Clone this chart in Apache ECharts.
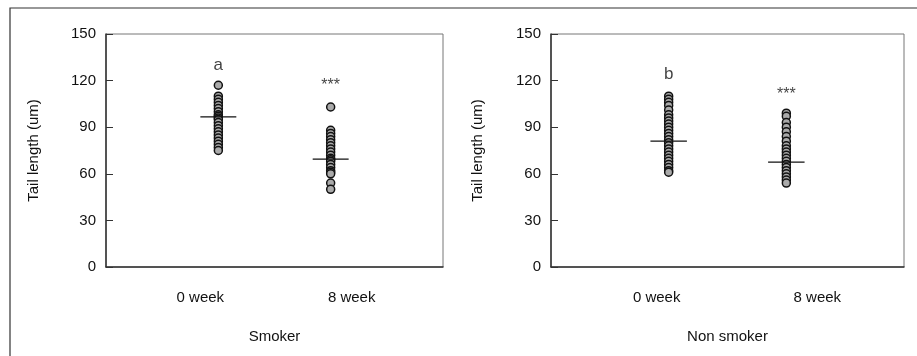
<!DOCTYPE html>
<html><head><meta charset="utf-8">
<script src="https://cdn.jsdelivr.net/npm/echarts@6/dist/echarts.min.js"></script>
<style>html,body{margin:0;padding:0;background:#fff}#c{width:917px;height:356px}</style>
</head><body><div id="c"></div>
<script>
const categories = ['0 week', '8 week'];
const groups = ['Smoker', 'Non smoker'];
const yTicks = [0, 30, 60, 90, 120, 150];
const smoker0 = [117, 110, 108, 106, 104, 102, 100, 98, 97, 96, 95, 93, 91, 89, 87, 85, 83, 81, 79, 77, 75];
const smoker8 = [103, 88, 86, 84, 82, 80, 78, 76, 74, 72, 70, 69, 68, 66, 64, 62, 61, 60, 54, 50];
const nonsmoker0 = [110, 108, 106, 104, 101, 98, 96, 94, 92, 90, 88, 86, 84, 82, 80, 78, 76, 74, 72, 70, 68, 66, 64, 62, 61];
const nonsmoker8 = [99, 97, 93, 90, 87, 84, 81, 78, 76, 74, 72, 70, 68, 66, 64, 62, 60, 58, 56, 54];
const means = [[96.6, 69.5], [81, 67.5]];
const annotations = [[{ text: 'a', y: 130 }, { text: '***', y: 117 }], [{ text: 'b', y: 124 }, { text: '***', y: 111 }]];

const font = 'Liberation Sans';
const txt = '#111';
const panels = [[smoker0, smoker8], [nonsmoker0, nonsmoker8]];
const grids = [
  { left: 106, right: 474, top: 34, bottom: 89 },
  { left: 551, right: 13, top: 34, bottom: 89 }
];
const labelShift = [[-18, 21], [-12, 31]];

const option = {
  animation: false,
  grid: grids.map(g => Object.assign({ show: true, borderColor: '#777', borderWidth: 1, containLabel: false }, g)),
  xAxis: [],
  yAxis: [],
  series: [],
  graphic: [
    { type: 'polyline', silent: true, shape: { points: [[10, 356], [10, 8], [917, 8]] }, style: { stroke: '#333', lineWidth: 1.2, fill: null } }
  ]
};

panels.forEach((panel, p) => {
  option.xAxis.push({
    type: 'value', gridIndex: p, min: 0, max: 3,
    axisLine: { show: true, onZero: false, lineStyle: { color: '#333', width: 1.5 } },
    axisTick: { show: false }, splitLine: { show: false },
    axisLabel: {
      show: true, customValues: [1, 2], fontFamily: font, fontSize: 15, color: txt, margin: 23,
      formatter: v => '{' + (v === 1 ? 'l' : 'r') + '|' + categories[v - 1] + '}',
      rich: {
        l: { fontFamily: font, fontSize: 15, color: txt, padding: [0, -labelShift[p][0] * 2, 0, 0] },
        r: { fontFamily: font, fontSize: 15, color: txt, padding: [0, 0, 0, labelShift[p][1] * 2] }
      }
    },
    name: groups[p], nameLocation: 'middle', nameGap: 62,
    nameTextStyle: { fontFamily: font, fontSize: 15, color: txt }
  });
  option.yAxis.push({
    type: 'value', gridIndex: p, min: 0, max: 150, interval: 30,
    axisLine: { show: true, onZero: false, lineStyle: { color: '#333', width: 1.5 } },
    axisTick: { show: true, inside: true, length: 7, lineStyle: { color: '#333' } },
    splitLine: { show: false },
    axisLabel: { fontFamily: font, fontSize: 15, color: txt, margin: 10, customValues: yTicks },
    name: 'Tail length (um)', nameLocation: 'middle', nameRotate: 90, nameGap: p === 0 ? 65 : 66,
    nameTextStyle: { fontFamily: font, fontSize: 15, color: txt }
  });
  panel.forEach((vals, c) => {
    option.series.push({
      type: 'scatter', xAxisIndex: p, yAxisIndex: p,
      data: vals.map(v => [c + 1, v]),
      symbol: 'circle', symbolSize: 8,
      itemStyle: { color: '#aaa', borderColor: '#111', borderWidth: 1.5, opacity: 1 }
    });
    const hw = p === 0 ? 0.16 : 0.155;
    option.series.push({
      type: 'line', xAxisIndex: p, yAxisIndex: p,
      data: [[c + 1 - hw, means[p][c]], [c + 1 + hw, means[p][c]]],
      symbol: 'none', lineStyle: { color: '#111', width: 1.2 }, z: 5
    });
    const a = annotations[p][c];
    option.series.push({
      type: 'scatter', xAxisIndex: p, yAxisIndex: p,
      data: [[c + 1, a.y]], symbolSize: 0,
      label: {
        show: true, position: 'inside', formatter: a.text, fontFamily: font,
        fontSize: a.text === '***' ? 16 : 17, color: txt
      }
    });
  });
});

const chart = echarts.init(document.getElementById('c'), null, { renderer: 'canvas' });
chart.setOption(option);
</script></body></html>
